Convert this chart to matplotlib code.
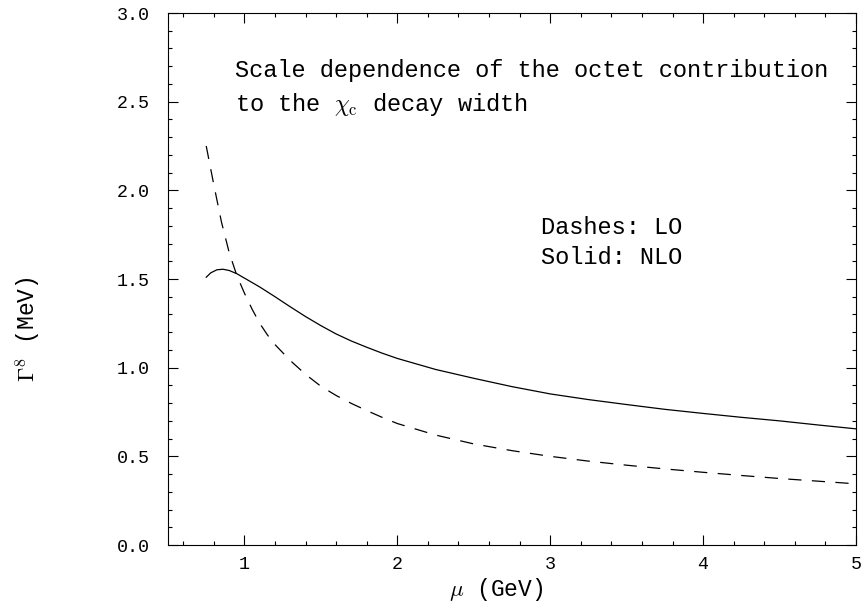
import numpy as np
import matplotlib
matplotlib.use("Agg")
import matplotlib.pyplot as plt
from matplotlib.ticker import MultipleLocator

# values
mu_lo = [0.75, 0.80, 0.85, 0.90, 0.95, 1.00, 1.05, 1.10, 1.15, 1.20, 1.30,
         1.40, 1.50, 1.60, 1.70, 1.80, 1.90, 2.00, 2.25, 2.50, 2.75, 3.00,
         3.25, 3.50, 3.75, 4.00, 4.25, 4.50, 4.75, 5.00]
gamma_lo = [2.25, 2.03, 1.82, 1.65, 1.52, 1.42, 1.33, 1.25, 1.185, 1.13,
            1.04, 0.962, 0.895, 0.843, 0.798, 0.758, 0.72, 0.685, 0.62,
            0.57, 0.532, 0.50, 0.473, 0.45, 0.429, 0.41, 0.392, 0.375,
            0.36, 0.345]

mu_nlo = [0.75, 0.78, 0.82, 0.86, 0.90, 0.95, 1.00, 1.05, 1.10, 1.20, 1.30,
          1.40, 1.50, 1.60, 1.70, 1.80, 1.90, 2.00, 2.25, 2.50, 2.75, 3.00,
          3.25, 3.50, 3.75, 4.00, 4.25, 4.50, 4.75, 5.00]
gamma_nlo = [1.51, 1.535, 1.552, 1.555, 1.548, 1.53, 1.505, 1.48, 1.455,
             1.40, 1.343, 1.288, 1.237, 1.19, 1.15, 1.115, 1.082, 1.052,
             0.99, 0.94, 0.893, 0.852, 0.82, 0.792, 0.765, 0.742, 0.72,
             0.70, 0.677, 0.655]

xticks = [1, 2, 3, 4, 5]
yticks = [0.0, 0.5, 1.0, 1.5, 2.0, 2.5, 3.0]

plt.rcParams['font.family'] = ['Liberation Mono', 'DejaVu Sans']
plt.rcParams['mathtext.fontset'] = 'cm'
plt.rcParams['lines.scale_dashes'] = False

fig = plt.figure(figsize=(8.63, 6.11), dpi=100)
ax = fig.add_axes([168 / 863, 66 / 611, 688 / 863, 532 / 611])

ax.plot(mu_lo, gamma_lo, color='black', lw=0.9, dashes=(9.5, 7.5))
ax.plot(mu_nlo, gamma_nlo, color='black', lw=0.9)

ax.set_xlim(0.5, 5.0)
ax.set_ylim(0.0, 3.0)
ax.set_xticks(xticks)
ax.set_xticklabels([str(t) for t in xticks])
ax.set_yticks(yticks)
ax.set_yticklabels(["%.1f" % t for t in yticks])
ax.xaxis.set_minor_locator(MultipleLocator(0.2))
ax.yaxis.set_minor_locator(MultipleLocator(0.1))

ax.tick_params(which='both', direction='in', top=True, right=True, width=0.8)
ax.tick_params(which='major', length=7, labelsize=13.2)
ax.tick_params(which='minor', length=3)
ax.tick_params(axis='x', which='major', pad=8)
ax.tick_params(axis='y', which='major', pad=13)
for s in ax.spines.values():
    s.set_linewidth(0.8)

ax.text(0.94, 2.637, "Scale dependence of the octet contribution",
        fontsize=17, va='baseline')
ax.text(0.94, 2.45, r"to the $\chi_{\rm c}$ decay width",
        fontsize=17, va='baseline')
ax.text(2.94, 1.755, "Dashes: LO", fontsize=17, va='baseline')
ax.text(2.94, 1.585, "Solid: NLO", fontsize=17, va='baseline')

fig.text(496 / 863, 15 / 611, r"$\mu$ (GeV)", fontsize=16.5,
         ha='center', va='baseline')
fig.text(28 / 863, (611 - 329) / 611, r"$\Gamma^8$ (MeV)", fontsize=16.5,
         ha='center', va='center', rotation=90)

fig.savefig("out.png", dpi=100)
